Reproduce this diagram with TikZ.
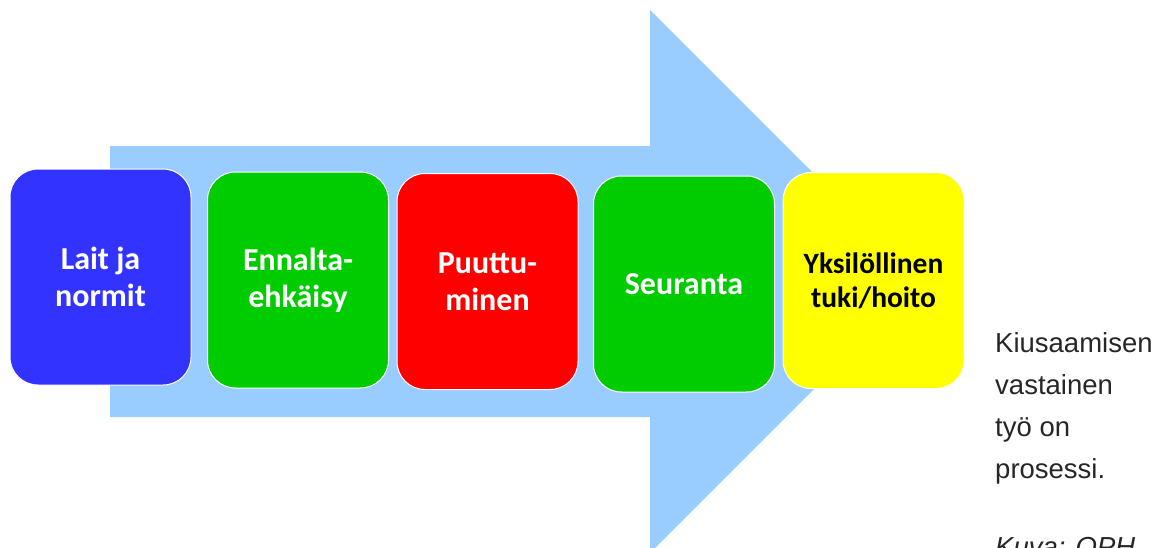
\documentclass[tikz,border=0pt]{standalone}
\usepackage{fontspec}
\setmainfont{Liberation Sans}
\newfontfamily\boxfont{Carlito}[BoldFont={Carlito Bold}]
\definecolor{arrowblue}{HTML}{99CCFF}
\definecolor{cblue}{HTML}{3333FF}
\definecolor{cgreen}{HTML}{00CC00}
\definecolor{cred}{HTML}{FF0000}
\definecolor{cyellow}{HTML}{FFFF00}
\tikzset{
  stage/.style={draw=white, line width=1pt, rounded corners=28pt, minimum width=181pt, minimum height=216pt,
    inner sep=0pt, align=center, text=white, font=\boxfont\bfseries\fontsize{32}{37}\selectfont},
  note/.style={anchor=base west, inner sep=0pt, font=\fontsize{27.5}{32}\selectfont, text=black!85}
}
\begin{document}
\begin{tikzpicture}[x=1pt,y=-1pt]
\useasboundingbox (0,0) rectangle (1164,547);
\clip (0,0) rectangle (1164,547);
\fill[arrowblue] (110,146) -- (650,146) -- (650,10) -- (921.5,281.5) -- (650,553) -- (650,417) -- (110,417) -- cycle;
\node[stage, fill=cblue] (b1) at (100.5,277) {Lait ja\\normit};
\node[stage, fill=cgreen] (b2) at (298,280) {Ennalta-\\ehkäisy};
\node[stage, fill=cred] (b3) at (487.5,281.5) {Puuttu-\\minen};
\node[stage, fill=cgreen] (b4) at (684,284) {Seuranta};
\node[stage, fill=cyellow, text=black, font=\boxfont\bfseries\fontsize{29.5}{34}\selectfont] (b5) at (873.5,280.5) {Yksilöllinen\\tuki/hoito};
\node[note] (t1) at (995,352) {Kiusaamisen};
\node[note] (t2) at (995,394) {vastainen};
\node[note] (t3) at (995,436) {työ on};
\node[note] (t4) at (995,478) {prosessi.};
\node[note, font=\itshape\fontsize{27.5}{32}\selectfont] (t5) at (995,556) {Kuva: OPH};
\end{tikzpicture}
\end{document}
